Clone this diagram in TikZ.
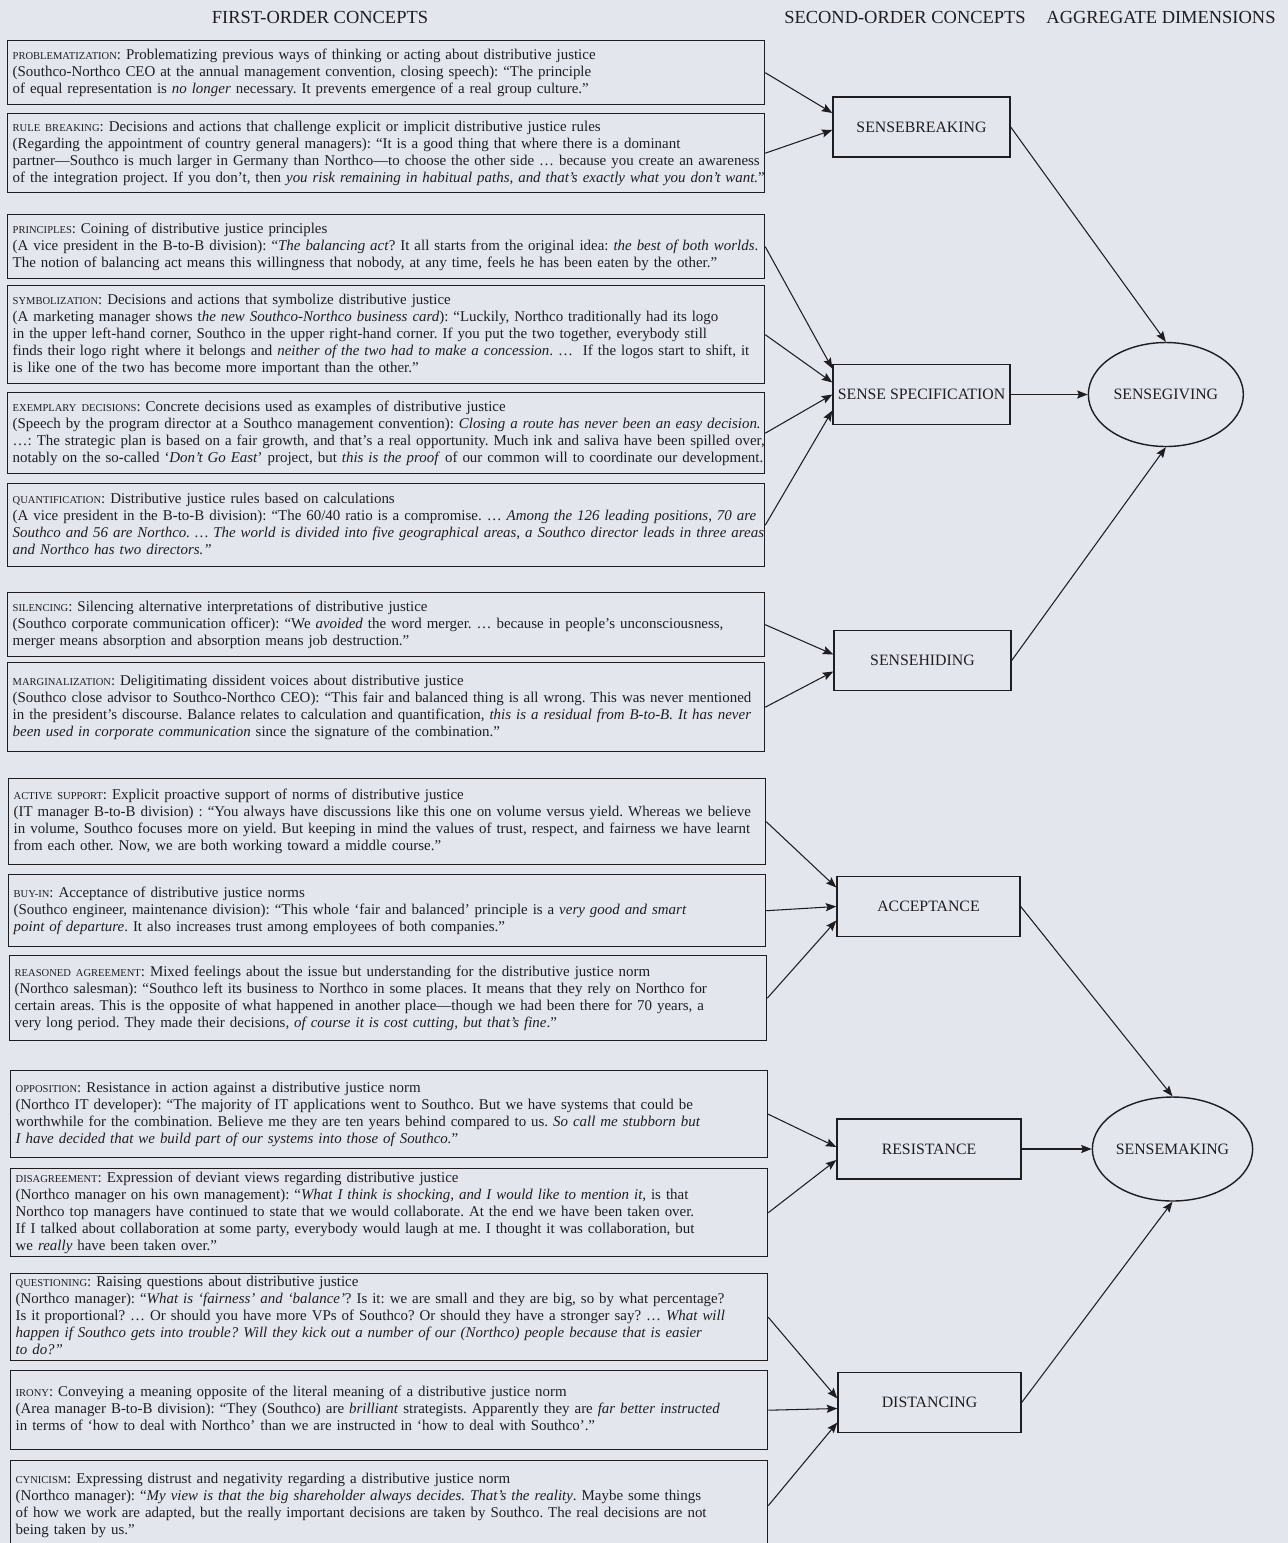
\documentclass[tikz,border=0pt]{standalone}
\usepackage{fontspec}
\setmainfont{Liberation Serif}
\usepackage{tikz}
\usetikzlibrary{positioning,calc,arrows.meta,shapes.geometric}

\definecolor{paper}{RGB}{228,230,237}
\definecolor{ink}{RGB}{30,30,34}

\newcommand{\quotefont}{\fontsize{8.5}{9.7}\selectfont\frenchspacing}
\newcommand{\lbl}[1]{{\fontsize{6}{6}\selectfont #1}:}
\newcommand{\qlines}[1]{\begin{tabular}{@{}l@{}}#1\end{tabular}}

\tikzset{
  firstorder/.style={draw=ink, thick, anchor=north west, text width=14.94cm, inner xsep=0.1cm, inner ysep=0pt, align=left, minimum height=#1, font=\quotefont},
  secondorder/.style={draw=ink, thick, minimum width=#1, minimum height=1.2cm, inner sep=1pt, font=\fontsize{9}{11}\selectfont},
  dimension/.style={ellipse, draw=ink, thick, minimum width=3.1cm, minimum height=2.08cm, inner sep=0pt, font=\fontsize{9}{11}\selectfont},
  heading/.style={font=\fontsize{10.5}{12}\selectfont},
}

\begin{document}
\begin{tikzpicture}[x=0.02cm, y=-0.02cm, >={Stealth[length=6pt,width=4.6pt,inset=1pt]}, semithick, text=ink]
    \fill[paper] (0,0) rectangle (1288,1543);
    \useasboundingbox (0,0) rectangle (1288,1543);

    \node[heading] (h1) at (320,17)  {FIRST-ORDER CONCEPTS};
    \node[heading] (h2) at (905,17)  {SECOND-ORDER CONCEPTS};
    \node[heading] (h3) at (1161,17) {AGGREGATE DIMENSIONS};

    % first-order concepts
    \node[firstorder=1.28cm] (prob) at (7,40) {\qlines{
      \lbl{PROBLEMATIZATION} Problematizing previous ways of thinking or acting about distributive justice\\
      (Southco-Northco CEO at the annual management convention, closing speech): ``The principle\\
      of equal representation is \textit{no longer} necessary. It prevents emergence of a real group culture.''}};
    \node[firstorder=1.58cm] (rule) at (7,113) {\qlines{
      \lbl{RULE BREAKING} Decisions and actions that challenge explicit or implicit distributive justice rules\\
      (Regarding the appointment of country general managers): ``It is a good thing that where there is a dominant\\
      partner---Southco is much larger in Germany than Northco---to choose the other side \dots\ because you create an awareness\\
      of the integration project. If you don't, then \textit{you risk remaining in habitual paths, and that's exactly what you don't want.}''}};
    \node[firstorder=1.28cm] (princ) at (7,214) {\qlines{
      \lbl{PRINCIPLES} Coining of distributive justice principles\\
      (A vice president in the B-to-B division): ``\textit{The balancing act}? It all starts from the original idea: \textit{the best of both worlds}.\\
      The notion of balancing act means this willingness that nobody, at any time, feels he has been eaten by the other.''}};
    \node[firstorder=1.96cm] (symb) at (7,285) {\qlines{
      \lbl{SYMBOLIZATION} Decisions and actions that symbolize distributive justice\\
      (A marketing manager shows t\textit{he new Southco-Northco business card}): ``Luckily, Northco traditionally had its logo\\
      in the upper left-hand corner, Southco in the upper right-hand corner. If you put the two together, everybody still\\
      finds their logo right where it belongs and \textit{neither of the two had to make a concession}. \dots\ \ If the logos start to shift, it\\
      is like one of the two has become more important than the other.''}};
    \node[firstorder=1.62cm] (exemp) at (7,392) {\qlines{
      \lbl{EXEMPLARY DECISIONS} Concrete decisions used as examples of distributive justice\\
      (Speech by the program director at a Southco management convention): \textit{Closing a route has never been an easy decision.}\\
      \dots: The strategic plan is based on a fair growth, and that's a real opportunity. Much ink and saliva have been spilled over,\\
      notably on the so-called `\textit{Don't Go East}' project, but \textit{this is the proof} of our common will to coordinate our development.}};
    \node[firstorder=1.66cm] (quant) at (7,483) {\qlines{
      \lbl{QUANTIFICATION} Distributive justice rules based on calculations\\
      (A vice president in the B-to-B division): ``The 60/40 ratio is a compromise. \dots\ \textit{Among the 126 leading positions, 70 are}\\
      \textit{Southco and 56 are Northco. \dots\ The world is divided into five geographical areas, a Southco director leads in three areas}\\
      \textit{and Northco has two directors.''}}};
    \node[firstorder=1.28cm] (silenc) at (7,592) {\qlines{
      \lbl{SILENCING} Silencing alternative interpretations of distributive justice\\
      (Southco corporate communication officer): ``We \textit{avoided} the word merger. \dots\ because in people's unconsciousness,\\
      merger means absorption and absorption means job destruction.''}};
    \node[firstorder=1.78cm] (margin) at (7,662) {\qlines{
      \lbl{MARGINALIZATION} Deligitimating dissident voices about distributive justice\\
      (Southco close advisor to Southco-Northco CEO): ``This fair and balanced thing is all wrong. This was never mentioned\\
      in the president's discourse. Balance relates to calculation and quantification, \textit{this is a residual from B-to-B. It has never}\\
      \textit{been used in corporate communication} since the signature of the combination.''}};
    \node[firstorder=1.72cm] (active) at (8,778) {\qlines{
      \lbl{ACTIVE SUPPORT} Explicit proactive support of norms of distributive justice\\
      (IT manager B-to-B division) : ``You always have discussions like this one on volume versus yield. Whereas we believe\\
      in volume, Southco focuses more on yield. But keeping in mind the values of trust, respect, and fairness we have learnt\\
      from each other. Now, we are both working toward a middle course.''}};
    \node[firstorder=1.44cm] (buyin) at (8,874) {\qlines{
      \lbl{BUY-IN} Acceptance of distributive justice norms\\
      (Southco engineer, maintenance division): ``This whole `fair and balanced' principle is a \textit{very good and smart}\\
      \textit{point of departure}. It also increases trust among employees of both companies.''}};
    \node[firstorder=1.70cm] (reason) at (9,955) {\qlines{
      \lbl{REASONED AGREEMENT} Mixed feelings about the issue but understanding for the distributive justice norm\\
      (Northco salesman): ``Southco left its business to Northco in some places. It means that they rely on Northco for\\
      certain areas. This is the opposite of what happened in another place---though we had been there for 70 years, a\\
      very long period. They made their decisions, \textit{of course it is cost cutting, but that's fine}.''}};
    \node[firstorder=1.74cm] (oppos) at (10,1070) {\qlines{
      \lbl{OPPOSITION} Resistance in action against a distributive justice norm\\
      (Northco IT developer): ``The majority of IT applications went to Southco. But we have systems that could be\\
      worthwhile for the combination. Believe me they are ten years behind compared to us. \textit{So call me stubborn but}\\
      \textit{I have decided that we build part of our systems into those of Southco.}''}};
    \node[firstorder=1.76cm] (disagr) at (10,1168) {\qlines{
      \lbl{DISAGREEMENT} Expression of deviant views regarding distributive justice\\
      (Northco manager on his own management): ``\textit{What I think is shocking, and I would like to mention it}, is that\\
      Northco top managers have continued to state that we would collaborate. At the end we have been taken over.\\
      If I talked about collaboration at some party, everybody would laugh at me. I thought it was collaboration, but\\
      we \textit{really} have been taken over.''}};
    \node[firstorder=1.74cm] (quest) at (10,1273) {\qlines{
      \lbl{QUESTIONING} Raising questions about distributive justice\\
      (Northco manager): ``\textit{What is `fairness' and `balance'}? Is it: we are small and they are big, so by what percentage?\\
      Is it proportional? \dots\ Or should you have more VPs of Southco? Or should they have a stronger say? \dots\ \textit{What will}\\
      \textit{happen if Southco gets into trouble? Will they kick out a number of our (Northco) people because that is easier}\\
      \textit{to do?''}}};
    \node[firstorder=1.58cm] (irony) at (10,1370) {\qlines{
      \lbl{IRONY} Conveying a meaning opposite of the literal meaning of a distributive justice norm\\
      (Area manager B-to-B division): ``They (Southco) are \textit{brilliant} strategists. Apparently they are \textit{far better instructed}\\
      in terms of `how to deal with Northco' than we are instructed in `how to deal with Southco'.''}};
    \node[firstorder=1.80cm] (cynic) at (10,1460) {\qlines{
      \lbl{CYNICISM} Expressing distrust and negativity regarding a distributive justice norm\\
      (Northco manager): ``\textit{My view is that the big shareholder always decides. That's the reality}. Maybe some things\\
      of how we work are adapted, but the really important decisions are taken by Southco. The real decisions are not\\
      being taken by us.''}};

    % second-order concepts
    \node[secondorder=3.54cm] (sb) at (921.5,127)  {SENSEBREAKING};
    \node[secondorder=3.54cm] (ss) at (921.5,394.5) {SENSE SPECIFICATION};
    \node[secondorder=3.54cm] (sh) at (922.5,660.5) {SENSEHIDING};
    \node[secondorder=3.66cm] (ac) at (928.5,906.5) {ACCEPTANCE};
    \node[secondorder=3.68cm] (rs) at (929,1149)   {RESISTANCE};
    \node[secondorder=3.66cm] (ds) at (929.5,1402.5) {DISTANCING};

    % aggregate dimensions
    \node[dimension, right=1.54cm of ss] (sg) {SENSEGIVING};
    \node[dimension, right=1.4cm of rs]  (sm) {SENSEMAKING};

    % paths into second-order concepts
    \path[->, color=ink]
    (prob.east)   edge ($(sb.west)+(0,-14)$)
    (rule.east)   edge ($(sb.west)+(0,3)$)
    (princ.east)  edge ($(ss.west)+(0,-26)$)
    (symb.east)   edge ($(ss.west)+(0,-12)$)
    (exemp.east)  edge (ss.west)
    (quant.east)  edge ($(ss.west)+(0,16)$)
    (silenc.east) edge ($(sh.west)+(0,-6)$)
    (margin.east) edge ($(sh.west)+(0,11)$)
    (active.east) edge ($(ac.west)+(0,-19)$)
    (buyin.east)  edge (ac.west)
    (reason.east) edge ($(ac.west)+(0,14)$)
    (oppos.east)  edge ($(rs.west)+(0,-2)$)
    (disagr.east) edge ($(rs.west)+(0,11)$)
    (quest.east)  edge ($(ds.west)+(0,-4)$)
    (irony.east)  edge ($(ds.west)+(0,6)$)
    (cynic.east)  edge ($(ds.west)+(0,20)$);
    % paths into aggregate dimensions
    \path[->, color=ink]
    (sb.east) edge (sg.north)
    (ss.east) edge (sg.west)
    (sh.east) edge (sg.south)
    (ac.east) edge (sm.north)
    (rs.east) edge (sm.west)
    (ds.east) edge (sm.south);

\end{tikzpicture}
\end{document}
